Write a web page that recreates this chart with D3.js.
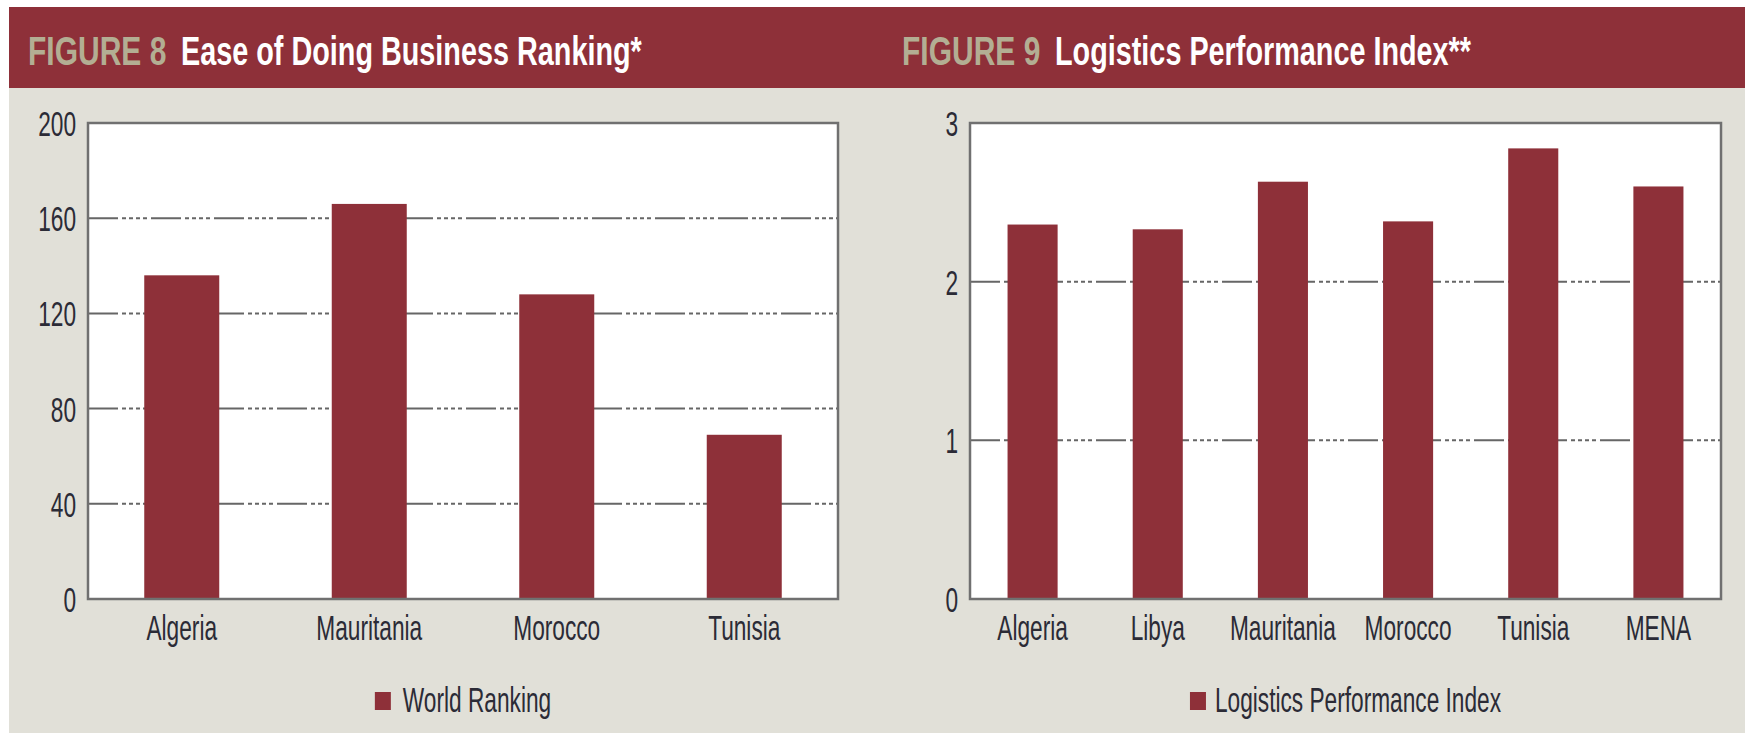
<!DOCTYPE html>
<html lang="en">
<head>
  <meta charset="UTF-8">
  <title>Figure 8 and Figure 9</title>
  <script src="https://d3js.org/d3.v7.min.js"></script>
  <style>
    body, html {
      margin: 0;
      padding: 0;
      background: #ffffff;
    }
  </style>
</head>
<body>
  <svg id="svg" width="1748" height="733"></svg>
  <script>
    // figure 8 data
    const rankCountries = ["Algeria", "Mauritania", "Morocco", "Tunisia"]
    const rankValues = [136, 166, 128, 69]
    const rankTicks = [0, 40, 80, 120, 160, 200]

    // figure 9 data
    const lpiCountries = ["Algeria", "Libya", "Mauritania", "Morocco", "Tunisia", "MENA"]
    const lpiValues = [2.36, 2.33, 2.63, 2.38, 2.84, 2.60]
    const lpiTicks = [0, 1, 2, 3]

    const maroon = "#8e3039"
    const beige = "#e1e0d8"
    const ink = "#2b2b36"
    const narrow = "'Liberation Sans Narrow', 'Liberation Sans', Arial, sans-serif"
    const squeeze = 0.63   // axis text is very condensed in the source

    const svg = d3.select("svg")

    // background panel + header band
    svg.append("rect")
      .attr("x", 9).attr("y", 88)
      .attr("width", 1736).attr("height", 645)
      .attr("fill", beige)

    svg.append("rect")
      .attr("x", 9).attr("y", 7)
      .attr("width", 1736).attr("height", 81)
      .attr("fill", maroon)

    function label(g, str, x, y, opts) {
      return g.append("text")
        .text(str)
        .attr("transform", `translate(${x},${y}) scale(${opts.k},1)`)
        .attr("text-anchor", opts.anchor || "start")
        .attr("font-family", narrow)
        .attr("font-size", opts.size)
        .attr("font-weight", opts.weight || "normal")
        .attr("fill", opts.fill || ink)
    }

    function drawFigure(cfg) {
      const g = svg.append("g")

      // header text
      label(g, cfg.figLabel, cfg.figX, 65, { k: 0.75, size: 40, weight: "bold", fill: "#b3ae93" })
      label(g, cfg.title, cfg.titleX, 65, { k: 0.72, size: 40, weight: "bold", fill: "#ffffff" })

      const x = d3.scaleBand()
        .domain(cfg.categories)
        .range([cfg.left, cfg.right])
        .paddingInner(0.6)
        .paddingOuter(0.3)

      const y = d3.scaleLinear()
        .domain([0, d3.max(cfg.ticks)])
        .range([cfg.bottom, cfg.top])

      // plot area
      g.append("rect")
        .attr("x", cfg.left).attr("y", cfg.top)
        .attr("width", cfg.right - cfg.left)
        .attr("height", cfg.bottom - cfg.top)
        .attr("fill", "#ffffff")

      // grid lines (long dash + dots)
      g.append("g")
        .selectAll("line")
        .data(cfg.ticks.slice(1, -1))
        .join("line")
        .attr("x1", cfg.left).attr("x2", cfg.right)
        .attr("y1", d => y(d)).attr("y2", d => y(d))
        .attr("stroke", "#666")
        .attr("stroke-width", 2)
        .attr("stroke-dasharray", "30,4,4,3,4,3,4,3,4,4")

      // bars
      g.append("g")
        .selectAll("rect")
        .data(cfg.values)
        .join("rect")
        .attr("x", (d, i) => x(cfg.categories[i]))
        .attr("y", d => y(d))
        .attr("width", x.bandwidth())
        .attr("height", d => y(0) - y(d))
        .attr("fill", maroon)

      // frame
      g.append("rect")
        .attr("x", cfg.left).attr("y", cfg.top)
        .attr("width", cfg.right - cfg.left)
        .attr("height", cfg.bottom - cfg.top)
        .attr("fill", "none")
        .attr("stroke", "#707070")
        .attr("stroke-width", 2.5)

      // y tick labels
      cfg.ticks.forEach(t => {
        label(g, d3.format("d")(t), cfg.left - 12, y(t) + 13, { k: squeeze, size: 36, anchor: "end" })
      })

      // x labels
      cfg.categories.forEach(c => {
        label(g, c, x(c) + x.bandwidth() / 2, cfg.bottom + 41, { k: squeeze, size: 36, anchor: "middle" })
      })

      // legend
      const leg = g.append("g")
      const txt = label(leg, cfg.legend, 0, 712, { k: squeeze, size: 36 })
      const tw = txt.node().getComputedTextLength() * squeeze
      const sq = 16, gap = cfg.legendGap
      const startX = (cfg.left + cfg.right) / 2 - (sq + gap + tw) / 2
      leg.append("rect")
        .attr("x", startX).attr("y", 692)
        .attr("width", sq).attr("height", 18)
        .attr("fill", maroon)
      txt.attr("transform", `translate(${startX + sq + gap},712) scale(${squeeze},1)`)
    }

    drawFigure({
      figLabel: "FIGURE 8", figX: 28,
      title: "Ease of Doing Business Ranking*", titleX: 181,
      categories: rankCountries, values: rankValues, ticks: rankTicks,
      left: 88, right: 838, top: 123, bottom: 599,
      legend: "World Ranking", legendGap: 12
    })

    drawFigure({
      figLabel: "FIGURE 9", figX: 902,
      title: "Logistics Performance Index**", titleX: 1055,
      categories: lpiCountries, values: lpiValues, ticks: lpiTicks,
      left: 970, right: 1721, top: 123, bottom: 599,
      legend: "Logistics Performance Index", legendGap: 9
    })
  </script>
</body>
</html>
